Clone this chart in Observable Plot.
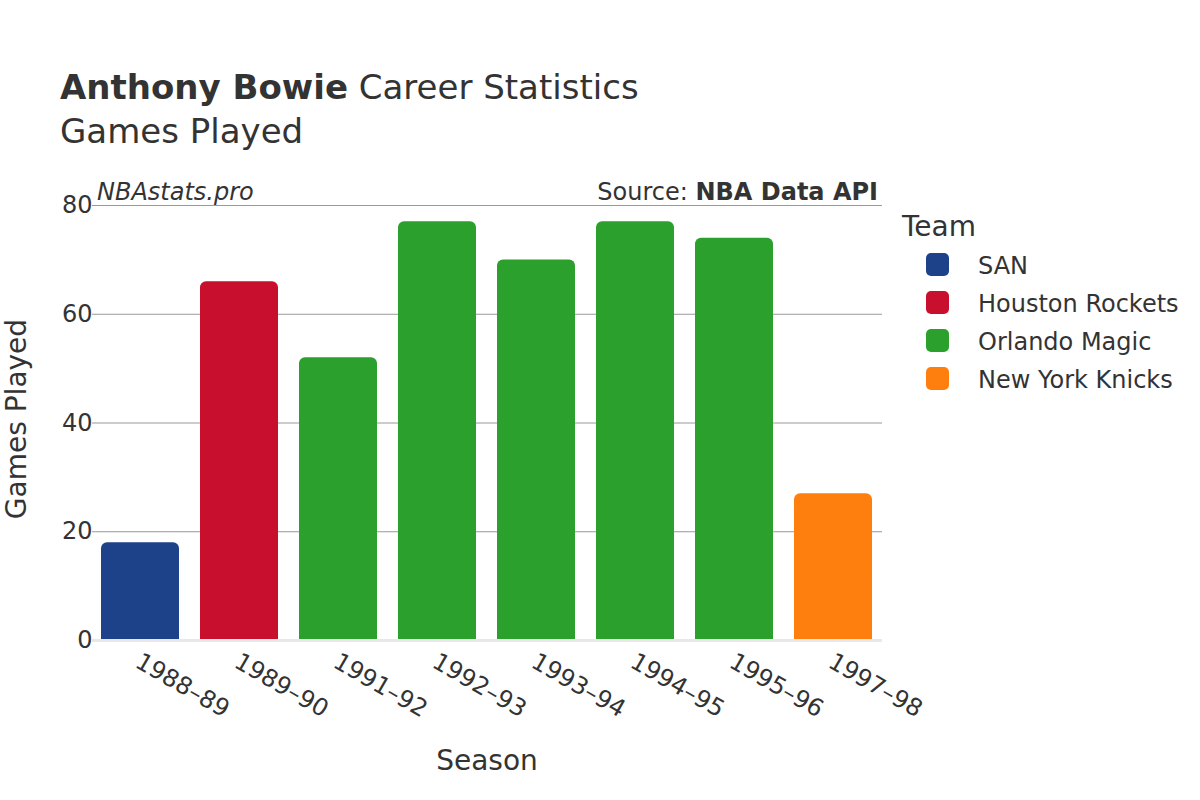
<!DOCTYPE html>
<html>
<head>
<meta charset="utf-8">
<script src="https://cdn.jsdelivr.net/npm/d3@7"></script>
<script src="https://cdn.jsdelivr.net/npm/@observablehq/plot@0.6"></script>
<style>
  html, body { margin: 0; padding: 0; background: #fff; }
  #wrap { position: relative; width: 1200px; height: 800px; font-family: "DejaVu Sans", sans-serif; color: #333; }
  .abs { position: absolute; white-space: nowrap; }
  #chart { position: absolute; left: 0; top: 0; }
</style>
</head>
<body>
<div id="wrap">
  <div id="chart"></div>
  <div class="abs" style="left:60px; top:67px; font-size:34px;"><b>Anthony Bowie</b> Career Statistics</div>
  <div class="abs" style="left:60px; top:111px; font-size:34px;">Games Played</div>
  <div class="abs" style="left:97px; top:178px; font-size:24px; font-style:italic;">NBAstats.pro</div>
  <div class="abs" style="right:322px; top:178px; font-size:24px;">Source: <b>NBA Data API</b></div>
  <div class="abs" style="left:902px; top:210px; font-size:28px;">Team</div>
  <div id="legend"></div>
  <div class="abs" style="left:16px; top:419px; font-size:28px; transform: translate(-50%,-50%) rotate(-90deg);">Games Played</div>
  <div class="abs" style="left:487px; top:760px; font-size:28px; transform: translate(-50%,-50%);">Season</div>
</div>
<script>
const seasons = ["1988–89", "1989–90", "1991–92", "1992–93", "1993–94", "1994–95", "1995–96", "1997–98"];
const seasonTeams = ["SAN", "Houston Rockets", "Orlando Magic", "Orlando Magic", "Orlando Magic", "Orlando Magic", "Orlando Magic", "New York Knicks"];
const games = [18, 66, 52, 77, 70, 77, 74, 27];
const legendTeams = ["SAN", "Houston Rockets", "Orlando Magic", "New York Knicks"];
const teamColors = ["#1d428a", "#c8102e", "#2ca02c", "#ff7f0e"];
const yTicks = [0, 20, 40, 60, 80];

const data = seasons.map((s, i) => ({season: s, team: seasonTeams[i], games: games[i]}));

const chart = Plot.plot({
  width: 1200,
  height: 800,
  marginLeft: 92,
  marginRight: 318,
  marginTop: 205,
  marginBottom: 160,
  style: {fontFamily: "DejaVu Sans, sans-serif", fontSize: "24px", color: "#333", background: "transparent"},
  x: {domain: seasons, paddingInner: 0.21, paddingOuter: 0.09, label: null},
  y: {domain: [0, 80], ticks: yTicks, label: null},
  color: {domain: legendTeams, range: teamColors},
  marks: [
    Plot.gridY(yTicks.filter(d => d > 0), {stroke: "#999", strokeOpacity: 1, strokeWidth: 1}),
    Plot.barY(data, {x: "season", y: "games", fill: "team", rx: 6}),
    Plot.barY(data, {x: "season", y1: 0, y2: d => d.games / 2, fill: "team"}),
    Plot.ruleY([0], {stroke: "#e8e8e8", strokeWidth: 3}),
    Plot.axisY({ticks: yTicks, tickSize: 0, tickPadding: 0, fontSize: 24, fill: "#333", label: null}),
    Plot.axisX({tickSize: 0, tickRotate: 30, textAnchor: "start", tickPadding: 19, fontSize: 24, fill: "#333", label: null, dx: -3})
  ]
});
document.getElementById("chart").appendChild(chart);

const legend = document.getElementById("legend");
legendTeams.forEach((t, i) => {
  const top = 253 + i * 38;
  const sw = document.createElement("div");
  sw.className = "abs";
  sw.style.cssText = `left:926px; top:${top}px; width:23px; height:23px; border-radius:5px; background:${teamColors[i]};`;
  legend.appendChild(sw);
  const lb = document.createElement("div");
  lb.className = "abs";
  lb.style.cssText = `left:978px; top:${top - 1}px; font-size:24px; color:#333;`;
  lb.textContent = t;
  legend.appendChild(lb);
});
</script>
</body>
</html>
